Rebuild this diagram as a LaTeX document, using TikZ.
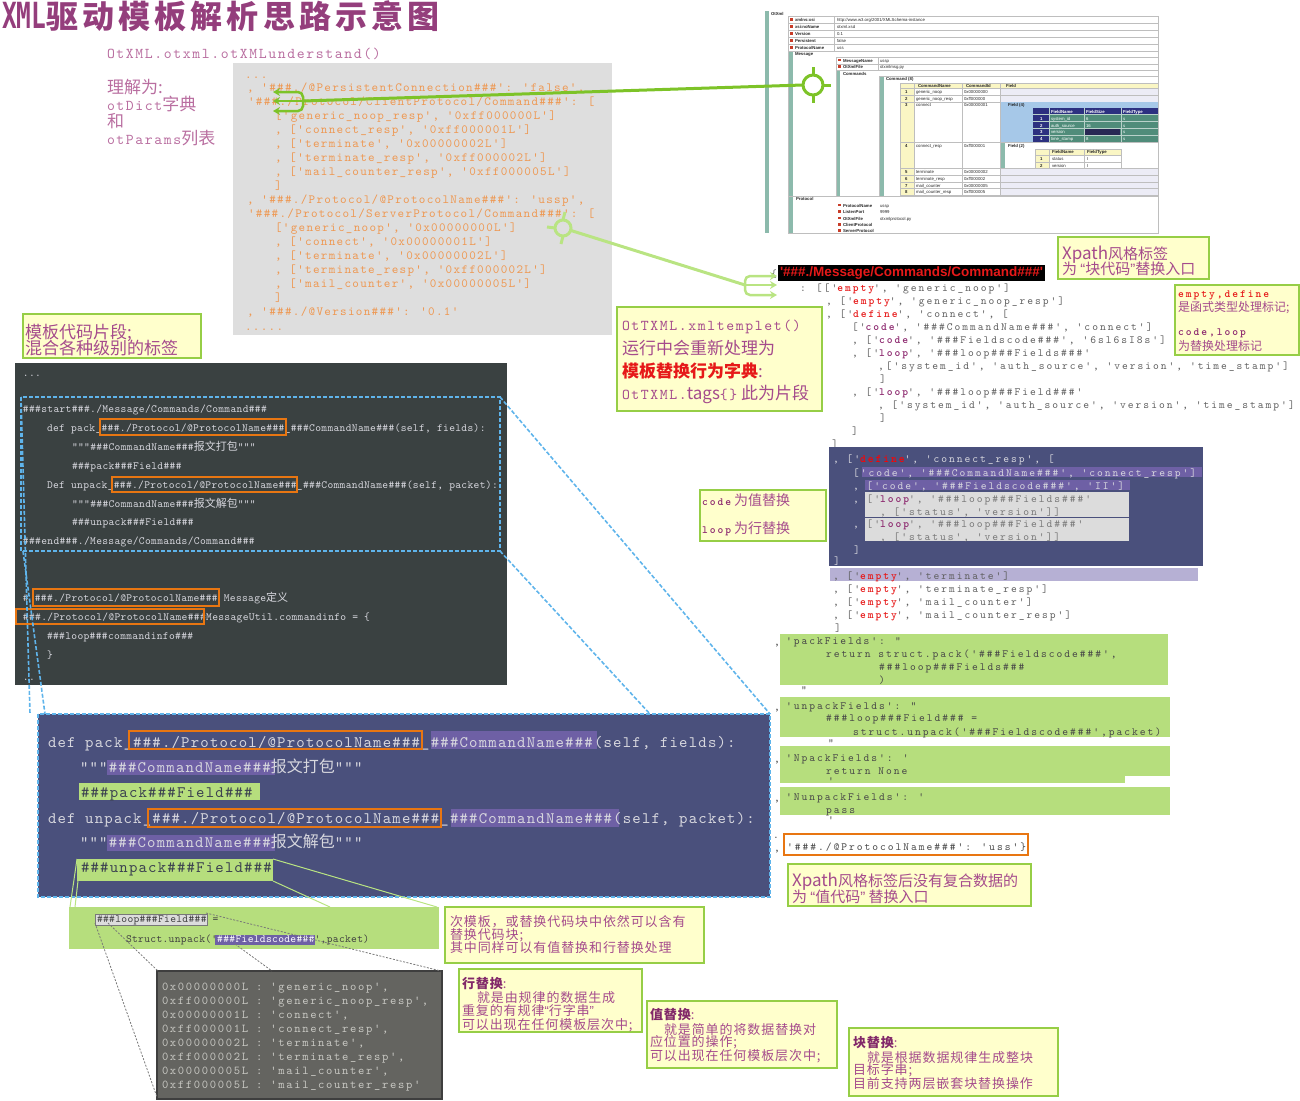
\documentclass[tikz,border=0pt]{standalone}
\usepackage{fontspec}
\usepackage{graphicx}
\usetikzlibrary{arrows.meta}
\newfontfamily\cjk{Noto Sans CJK SC}
\newfontfamily\cjkS[LetterSpace=7]{Noto Sans CJK SC}
\newfontfamily\cjkT[LetterSpace=13]{Noto Sans CJK SC}
\newfontfamily\arial{Liberation Sans}
\newfontfamily\djm{DejaVu Sans Mono}
\newfontfamily\monoG[Extension=.otf,LetterSpace=10.5]{lmmono10-regular}
\newfontfamily\monoR[Extension=.otf,LetterSpace=18,BoldFont=lmmonolt10-bold]{lmmono10-regular}
\newfontfamily\monoB[Extension=.otf,LetterSpace=7.5]{lmmono10-regular}
\newfontfamily\monoD[Extension=.otf,LetterSpace=3]{lmmono10-regular}
\newfontfamily\monoK[Extension=.otf,LetterSpace=14]{lmmono10-regular}
\newfontfamily\monoT[Extension=.otf,LetterSpace=10.8]{lmmono10-regular}
\newcommand\hsh{\#\#\#}
\newcommand\zh[1]{{\cjk #1}}
\newcommand\zht[1]{{\cjk\fontsize{17}{17}\selectfont #1}}
\newcommand\kr[1]{{\color{kred}\bfseries #1}}
\newcommand\kp[1]{{\color{kpur}\bfseries #1}}
\newcommand\kpb[1]{{\monoR\bfseries\fontsize{11}{11}\selectfont\color{kpur}#1}}
\newcommand\oq{{\arial “}}
\newcommand\cq{{\arial ”}}
\definecolor{ttl}{RGB}{148,62,124}
\definecolor{ttxt}{RGB}{185,110,160}
\definecolor{anntxt}{RGB}{165,75,140}
\definecolor{anndark}{RGB}{130,40,105}
\definecolor{ybg}{RGB}{255,255,204}
\definecolor{ybd}{RGB}{150,206,70}
\definecolor{gbg}{RGB}{182,222,125}
\definecolor{darkbg}{RGB}{58,65,65}
\definecolor{bluebg}{RGB}{74,80,124}
\definecolor{purp}{RGB}{110,96,165}
\definecolor{orng}{RGB}{232,118,18}
\definecolor{grybg}{RGB}{222,222,222}
\definecolor{otxt}{RGB}{238,152,82}
\definecolor{lblue}{RGB}{95,180,235}
\definecolor{codegray}{RGB}{95,95,95}
\definecolor{midgray}{RGB}{120,120,120}
\definecolor{kred}{RGB}{230,25,25}
\definecolor{kpur}{RGB}{140,40,110}
\definecolor{lav}{RGB}{182,176,212}
\definecolor{lighttxt}{RGB}{215,215,222}
\definecolor{gtxt}{RGB}{60,66,80}
\definecolor{gline}{RGB}{125,195,40}
\definecolor{gline2}{RGB}{185,228,130}
\definecolor{boxgray}{RGB}{100,100,96}
\definecolor{boxbd}{RGB}{62,62,62}
\definecolor{ktxt}{RGB}{200,200,195}
\definecolor{lgray}{RGB}{220,220,220}
\definecolor{sbar}{RGB}{140,186,172}
\definecolor{sgrid}{RGB}{190,190,190}
\definecolor{shead}{RGB}{250,246,196}
\definecolor{srow}{RGB}{236,236,246}
\definecolor{sblue}{RGB}{166,200,232}
\definecolor{snavy}{RGB}{44,48,128}
\definecolor{steal}{RGB}{80,140,122}
\definecolor{sdark}{RGB}{40,40,84}
\definecolor{sicon}{RGB}{200,60,40}
\definecolor{stxt}{RGB}{40,40,40}
\tikzset{
  gcode/.style={font=\monoG\fontsize{12.5}{14}\selectfont, text=otxt},
  rcode/.style={font=\monoR\fontsize{11}{13}\selectfont, text=codegray},
  rlight/.style={rcode, text=lighttxt},
  grcode/.style={rcode, text=black!72},
  dcode/.style={font=\monoD\fontsize{11}{19}\selectfont, text=lighttxt},
  bcode/.style={font=\monoB\fontsize{16}{25}\selectfont, text=lighttxt},
  kcode/.style={font=\monoK\fontsize{12}{14}\selectfont, text=ktxt},
  toptxt/.style={font=\monoT\fontsize{15}{17}\selectfont, text=ttxt},
  annS/.style={font=\cjkS\fontsize{13}{14}\selectfont, text=anntxt},
  annA/.style={font=\cjk\fontsize{15}{15}\selectfont, text=anntxt},
  annB/.style={font=\cjk\fontsize{12}{12}\selectfont, text=anntxt},
  annC/.style={font=\cjk\fontsize{17}{17}\selectfont, text=anntxt},
  ybox/.style={fill=ybg, draw=ybd, line width=1.6pt},
  obox/.style={draw=orng, line width=2pt},
  bdash/.style={draw=lblue, line width=1.6pt, dash pattern=on 4pt off 2pt},
  tiny/.style={font=\arial\fontsize{4.3}{5}\selectfont, text=stxt},
  tinyb/.style={font=\arial\bfseries\fontsize{4.3}{5}\selectfont, text=stxt},
  sg/.style={draw=sgrid, line width=0.5pt},
}
\begin{document}
\begin{tikzpicture}[x=1pt,y=-1pt, every node/.style={inner sep=0pt,outer sep=0pt,anchor=base west}]
\useasboundingbox (0,0) rectangle (1300,1100);

% ---------------- title
\node[text=ttl] (title) at (2,28) {\scalebox{0.68}[1]{\djm\bfseries\fontsize{36}{36}\selectfont XML}{\cjkT\bfseries\fontsize{32}{32}\selectfont 驱动模板解析思路示意图}};

% ---------------- top-left
\node[toptxt] (u1) at (107,58) {OtXML.otxml.otXMLunderstand()};
\node[toptxt] (u2) at (107,93) {\zht{理解为:}};
\node[toptxt] (u3) at (107,110) {otDict\zht{字典}};
\node[toptxt] (u4) at (107,127) {\zht{和}};
\node[toptxt] (u5) at (107,144) {otParams\zht{列表}};

% ---------------- gray dict block
\fill[grybg] (233,63) rectangle (612,335);
\node[gcode] (g1) at (245,78) {...};
\node[gcode] (g2) at (247,91) {, '\hsh./@PersistentConnection\hsh': 'false',};
\node[gcode] (g3) at (248,105) {'\hsh./Protocol/ClientProtocol/Command\hsh': [};
\node[gcode] (g4) at (275,119) {['generic\_noop\_resp', '0xff000000L']};
\node[gcode] (g5) at (275,133) {, ['connect\_resp', '0xff000001L']};
\node[gcode] (g6) at (275,147) {, ['terminate', '0x00000002L']};
\node[gcode] (g7) at (275,161) {, ['terminate\_resp', '0xff000002L']};
\node[gcode] (g8) at (275,175) {, ['mail\_counter\_resp', '0xff000005L']};
\node[gcode] (g9) at (275,189) {]};
\node[gcode] (g10) at (247,203) {, '\hsh./Protocol/@ProtocolName\hsh': 'ussp',};
\node[gcode] (g11) at (248,217) {'\hsh./Protocol/ServerProtocol/Command\hsh': [};
\node[gcode] (g12) at (275,231) {['generic\_noop', '0x00000000L']};
\node[gcode] (g13) at (275,245) {, ['connect', '0x00000001L']};
\node[gcode] (g14) at (275,259) {, ['terminate', '0x00000002L']};
\node[gcode] (g15) at (275,273) {, ['terminate\_resp', '0xff000002L']};
\node[gcode] (g16) at (275,287) {, ['mail\_counter', '0x00000005L']};
\node[gcode] (g17) at (275,301) {]};
\node[gcode] (g18) at (247,315) {, '\hsh./@Version\hsh': '0.1'};
\node[gcode] (g19) at (245,330) {.....};

% ---------------- screenshot (top right)
\fill[sbar] (765,11) rectangle (769,233);
\node[tinyb] (s0) at (771,15) {OtXml};
\draw[sg] (788,16) rectangle (1158,51);
\foreach \yy in {23,30,37,44}{\draw[sg] (788,\yy) -- (1158,\yy);}
\draw[sg] (834,16) -- (834,51);
\foreach \i/\yy/\n/\v in {1/21.5/xmlns:xsi/{http://www.w3.org/2001/XMLSchema-instance},2/28.5/xsi:noName/{otxml.xsd},3/35.5/Version/{0.1},4/42.5/Persistent/{false},5/49.5/ProtocolName/{uss}}{
  \fill[sicon] (790,\yy-3.5) rectangle (792.5,\yy-1);
  \node[tinyb] (sa\i) at (795,\yy) {\n};
  \node[tiny] (sv\i) at (837,\yy) {\v};
}
\draw[sg] (788,51) rectangle (1158,196);
\fill[sbar] (789,52) rectangle (793,196);
\node[tinyb] (sm0) at (795,55.5) {Message};
\draw[sg] (836,57) rectangle (1158,196);
\draw[sg] (836,64) -- (1158,64);
\draw[sg] (836,70) -- (1158,70);
\draw[sg] (878,57) -- (878,70);
\foreach \i/\yy/\n/\v in {1/62/MessageName/ussp,2/68.5/OtXmlFile/{otxmlmsg.py}}{
  \fill[sicon] (838,\yy-3.5) rectangle (840.5,\yy-1);
  \node[tinyb] (sma\i) at (843,\yy) {\n};
  \node[tiny] (smv\i) at (880,\yy) {\v};
}
\node[tinyb] (sm3) at (843,75) {Commands};
\fill[sbar] (837,71) rectangle (840,196);
\draw[sg] (879,76) rectangle (1158,196);
\node[tinyb] (sm4) at (886,80.5) {Command (8)};
\fill[sbar] (880,77) rectangle (884,196);
\fill[shead] (900,83) rectangle (1158,88.5);
\fill[shead] (900,88.5) rectangle (914,195);
\fill[srow] (1000.5,88.5) rectangle (1158,102);
\fill[srow] (1000.5,168.5) rectangle (1158,195);
\foreach \yy in {83,88.5,95.5,102,142,168.5,175,182,188.5,195}{\draw[sg] (900,\yy) -- (1158,\yy);}
\foreach \xx in {900,914,962,1000.5}{\draw[sg] (\xx,83) -- (\xx,195);}
\node[tinyb] (sh1) at (918,87.3) {CommandName};
\node[tinyb] (sh2) at (966,87.3) {CommandId};
\node[tinyb] (sh3) at (1006,87.3) {Field};
\foreach \i/\yy/\n/\v in {1/93.6/generic\_noop/0x00000000,2/100.4/generic\_noop\_resp/0xff000000,3/106.4/connect/0x00000001,4/147/connect\_resp/0xff000001,5/173.4/terminate/0x00000002,6/180.4/terminate\_resp/0xff000002,7/187/mail\_counter/0x00000005,8/193.6/mail\_counter\_resp/0xff000005}{
  \node[tinyb] (sn\i) at (905,\yy) {\i};
  \node[tiny] (sc\i) at (916,\yy) {\n};
  \node[tiny] (sd\i) at (964,\yy) {\v};
}
\fill[sblue] (1000.5,102) rectangle (1158,142);
\node[tinyb] (sf0) at (1008,106.5) {Field (4)};
\fill[snavy] (1033,108) rectangle (1158,142);
\fill[steal] (1049,114.5) rectangle (1158,142);
\fill[sdark] (1085,128.5) rectangle (1120,135.3);
\foreach \yy in {114.5,121.4,128.3,135.2}{\draw[draw=white!60!steal,line width=0.4pt] (1033,\yy) -- (1158,\yy);}
\foreach \xx in {1049,1084,1121}{\draw[draw=white!60!steal,line width=0.4pt] (\xx,108) -- (\xx,142);}
\node[tinyb,text=white] (sf1) at (1051,113) {FieldName};
\node[tinyb,text=white] (sf2) at (1086,113) {FieldSize};
\node[tinyb,text=white] (sf3) at (1123,113) {FieldType};
\foreach \i/\yy/\n/\s in {1/120/system\_id/6,2/127/auth\_source/16,3/133.8/version/{},4/140.7/time\_stamp/8}{
  \node[tinyb,text=white] (sfn\i) at (1040,\yy) {\i};
  \node[tiny,text=white] (sfa\i) at (1051,\yy) {\n};
  \node[tiny,text=white] (sfb\i) at (1086,\yy) {\s};
  \node[tiny,text=white] (sfc\i) at (1123,\yy) {s};
}
\fill[sbar] (1001,142.5) rectangle (1005,168);
\node[tinyb] (sg0) at (1008,147.5) {Field (2)};
\fill[shead] (1035,149) rectangle (1121,155.5);
\fill[shead] (1035,155.5) rectangle (1049,168.5);
\fill[white] (1049,155.5) rectangle (1121,168.5);
\draw[sg] (1035,149) rectangle (1121,168.5);
\draw[sg] (1035,155.5) -- (1121,155.5);
\draw[sg] (1035,162) -- (1121,162);
\draw[sg] (1049,149) -- (1049,168.5);
\draw[sg] (1084,149) -- (1084,168.5);
\node[tinyb] (sg1) at (1052,153.5) {FieldName};
\node[tinyb] (sg2) at (1087,153.5) {FieldType};
\node[tinyb] (sg3) at (1040,160.5) {1};
\node[tiny] (sg4) at (1052,160.5) {status};
\node[tiny] (sg5) at (1087,160.5) {I};
\node[tinyb] (sg6) at (1040,167) {2};
\node[tiny] (sg7) at (1052,167) {version};
\node[tiny] (sg8) at (1087,167) {I};
\draw[sg] (788,196) rectangle (1158,233);
\fill[sbar] (789,197) rectangle (793,233);
\node[tinyb] (sp0) at (796,200.5) {Protocol};
\foreach \i/\yy/\n/\v in {1/207/ProtocolName/ussp,2/213.5/ListenPort/9999,3/220/OtXmlFile/{otxmlprotocol.py},4/226.5/ClientProtocol/{},5/232.5/ServerProtocol/{}}{
  \fill[sicon] (838,\yy-3.5) rectangle (840.5,\yy-1);
  \node[tinyb] (spa\i) at (843,\yy) {\n};
  \node[tiny] (spv\i) at (880,\yy) {\v};
}

% ---------------- right code listing
\node[rcode] (r0) at (771,277) {\{};
\node[font=\arial\bfseries\fontsize{13.5}{14}\selectfont, text=kred, fill=black, anchor=west, inner xsep=2pt, minimum height=16pt] (tag) at (778,273) {'\#\#\#./Message/Commands/Command\#\#\#'};
\node[rcode] (r1) at (800,291) {: [['\kr{empty}', 'generic\_noop']};
\node[rcode] (r2) at (826,304) {, ['\kr{empty}', 'generic\_noop\_resp']};
\node[rcode] (r3) at (826,317) {, ['\kr{define}', 'connect', [};
\node[rcode] (r4) at (852,330) {['\kp{code}', '\hsh{}CommandName\hsh{}', 'connect']};
\node[rcode] (r5) at (852,343) {, ['\kp{code}', '\hsh{}Fieldscode\hsh{}', '6sl6sI8s']};
\node[rcode] (r6) at (852,356) {, ['\kp{loop}', '\hsh{}loop\hsh{}Fields\hsh{}'};
\node[rcode] (r7) at (878,369) {,['system\_id', 'auth\_source', 'version', 'time\_stamp']};
\node[rcode] (r8) at (880,382) {]};
\node[rcode] (r9) at (852,395) {, ['\kp{loop}', '\hsh{}loop\hsh{}Field\hsh{}'};
\node[rcode] (r10) at (878,408) {, ['system\_id', 'auth\_source', 'version', 'time\_stamp']};
\node[rcode] (r11) at (880,421) {]};
\node[rcode] (r12) at (852,434) {]};
\node[rcode] (r13) at (832,447) {]};

\fill[bluebg] (829,447) rectangle (1203,566);
\fill[purp] (862,467) rectangle (1202,477);
\fill[purp] (865,480) rectangle (1130,490);
\fill[lgray] (865,492) rectangle (1129,517);
\fill[lgray] (865,518) rectangle (1129,541);
\node[rlight] (q1) at (833,462) {, ['{\color{red}\bfseries define}', 'connect\_resp', [};
\node[rlight] (q2) at (853,476) {['code', '\hsh{}CommandName\hsh{}', 'connect\_resp']};
\node[rlight] (q3) at (853,489) {, ['code', '\hsh{}Fieldscode\hsh{}', 'II']};
\node[rcode,text=midgray] (q4) at (853,502) {\textcolor{lighttxt}{,} ['\kp{loop}', '\hsh{}loop\hsh{}Fields\hsh{}'};
\node[rcode,text=midgray] (q5) at (880,515) {, ['status', 'version']]};
\node[rcode,text=midgray] (q6) at (853,527) {\textcolor{lighttxt}{,} ['\kp{loop}', '\hsh{}loop\hsh{}Field\hsh{}'};
\node[rcode,text=midgray] (q7) at (880,540) {, ['status', 'version']]};
\node[rlight] (q8) at (854,553) {]};
\node[rlight] (q9) at (834,564) {]};

\fill[lav] (830,568) rectangle (1198,581);
\node[rcode] (p1) at (833,579) {, ['\kr{empty}', 'terminate']};
\node[rcode] (p2) at (833,592) {, ['\kr{empty}', 'terminate\_resp']};
\node[rcode] (p3) at (833,605) {, ['\kr{empty}', 'mail\_counter']};
\node[rcode] (p4) at (833,618) {, ['\kr{empty}', 'mail\_counter\_resp']};
\node[rcode] (p5) at (835,631) {]};

\fill[gbg] (780,634) rectangle (1168,685);
\fill[gbg] (780,697) rectangle (1170,737);
\fill[gbg] (780,746) rectangle (1170,776);
\fill[gbg] (780,775) rectangle (1125,783);
\fill[gbg] (780,787) rectangle (1170,815);
\node[grcode] (f1) at (774,645) {,};
\node[grcode] (f2) at (786,644) {'packFields': "};
\node[grcode] (f3) at (826,657) {return struct.pack('\hsh{}Fieldscode\hsh{}',};
\node[grcode] (f4) at (879,670) {\hsh{}loop\hsh{}Fields\hsh{}};
\node[grcode] (f5) at (879,683) {)};
\node[grcode] (f6) at (801,693) {"};
\node[grcode] (f7) at (774,710) {,};
\node[grcode] (f8) at (786,709) {'unpackFields': "};
\node[grcode] (f9) at (826,721) {\hsh{}loop\hsh{}Field\hsh{} =};
\node[grcode] (f10) at (853,735) {struct.unpack('\hsh{}Fieldscode\hsh{}',packet)};
\node[grcode] (f11) at (828,746) {"};
\node[grcode] (f12) at (774,762) {,};
\node[grcode] (f13) at (786,761) {'NpackFields': '};
\node[grcode] (f14) at (826,774) {return None};
\node[grcode] (f15) at (828,784) {'};
\node[grcode] (f16) at (774,801) {,};
\node[grcode] (f17) at (786,800) {'NunpackFields': '};
\node[grcode] (f18) at (826,813) {pass};
\node[grcode] (f19) at (828,823) {'};
\node[grcode] (f20) at (773,838) {..};
\node[grcode] (f21) at (774,851) {,};
\draw[obox, fill=white, line width=2.5pt] (784,834) rectangle (1028,855);
\node[grcode] (f22) at (787,850) {'\hsh{}./@ProtocolName\hsh{}': 'uss'\}};

% ---------------- dark template block
\fill[darkbg] (15,363) rectangle (507,685);
\node[dcode] (d1) at (23,376.5) {...};
\node[dcode] (d2) at (23,412.5) {\hsh{}start\hsh{}./Message/Commands/Command\hsh{}};
\node[dcode] (d3) at (47,431.5) {def pack\_\hsh{}./Protocol/@ProtocolName\hsh{}\_\hsh{}CommandName\hsh{}(self, fields):};
\node[dcode] (d4) at (72,450.5) {"""\hsh{}CommandName\hsh{}\zh{报文打包}"""};
\node[dcode] (d5) at (72,469.5) {\hsh{}pack\hsh{}Field\hsh{}};
\node[dcode] (d6) at (47,488.5) {Def unpack\_\hsh{}./Protocol/@ProtocolName\hsh{}\_\hsh{}CommandName\hsh{}(self, packet):};
\node[dcode] (d7) at (72,507.5) {"""\hsh{}CommandName\hsh{}\zh{报文解包}"""};
\node[dcode] (d8) at (72,525.5) {\hsh{}unpack\hsh{}Field\hsh{}};
\node[dcode] (d9) at (23,544.5) {\hsh{}end\hsh{}./Message/Commands/Command\hsh{}};
\node[dcode] (d10) at (23,601.5) {\# \hsh{}./Protocol/@ProtocolName\hsh{} Message\zh{定义}};
\node[dcode] (d11) at (23,620.5) {\hsh{}./Protocol/@ProtocolName\hsh{}MessageUtil.commandinfo = \{};
\node[dcode] (d12) at (47,639.5) {\hsh{}loop\hsh{}commandinfo\hsh{}};
\node[dcode] (d13) at (47,658) {\}};
\node[dcode] (d14) at (23,680) {..};
\draw[obox] (100,419) rectangle (286,435);
\draw[obox] (112,477) rectangle (297,492);
\draw[obox] (33,589) rectangle (219,606);
\draw[obox] (16,609) rectangle (204,624);
\draw[bdash] (21,397) rectangle (500,551);

% ---------------- big blue block
\fill[bluebg] (38,714) rectangle (770,897);
\fill[purp] (431,731) rectangle (597,749);
\fill[purp] (107,760) rectangle (275,775);
\fill[purp] (451,809) rectangle (619,827);
\fill[purp] (107,835) rectangle (275,851);
\fill[gbg] (79,783) rectangle (260,800);
\fill[gbg] (77,859) rectangle (273,881);
\node[bcode] (b1) at (48,747) {def pack\_\hsh{}./Protocol/@ProtocolName\hsh{}\_\hsh{}CommandName\hsh{}(self, fields):};
\node[bcode] (b2) at (80,772) {"""\hsh{}CommandName\hsh{}\zh{报文打包}"""};
\node[bcode, text=gtxt] (b3) at (81,797) {\hsh{}pack\hsh{}Field\hsh{}};
\node[bcode] (b4) at (48,823) {def unpack\_\hsh{}./Protocol/@ProtocolName\hsh{}\_\hsh{}CommandName\hsh{}(self, packet):};
\node[bcode] (b5) at (80,847) {"""\hsh{}CommandName\hsh{}\zh{报文解包}"""};
\node[bcode, text=gtxt] (b6) at (81,872) {\hsh{}unpack\hsh{}Field\hsh{}};
\draw[obox] (129,731) rectangle (422,749);
\draw[obox] (148,809) rectangle (441,827);
\draw[bdash] (38,714) rectangle (770,897);

% blue dashed zoom lines
\coordinate (dTL) at (21,397);
\coordinate (dTR) at (500,397);
\coordinate (dBL) at (23,551);
\coordinate (dBR) at (500,551);
\coordinate (bA) at (30,714);
\coordinate (bB) at (45,714);
\coordinate (bC) at (650,714);
\coordinate (bD) at (770,714);
\draw[bdash] (dTL) -- (bA);
\draw[bdash] (dBL) -- (bB);
\draw[bdash] (dTR) -- (bD);
\draw[bdash] (dBR) -- (bC);

% ---------------- bottom green sub-template
\fill[gbg] (69,907) rectangle (439,949);
\draw[fill=lgray, draw=midgray, line width=0.6pt] (95,914) rectangle (207,925);
\fill[purp] (215,935) rectangle (315,945);
\node[dcode, text=black!75] (e1) at (97,922.5) {\hsh{}loop\hsh{}Field\hsh{} =};
\node[dcode, text=black!75] (e2) at (126,942.5) {Struct.unpack('\textcolor{white}{\hsh{}Fieldscode\hsh{}}',packet)};

\coordinate (uTL) at (77,859);
\coordinate (uBL) at (78,881);
\coordinate (uTR) at (273,859);
\coordinate (uBR) at (273,881);
\coordinate (vA) at (70,907);
\coordinate (vB) at (75,907);
\coordinate (vC) at (437,907);
\coordinate (vD) at (330,907);
\draw[gline2, line width=1pt] (uTL) -- (vA);
\draw[gline2, line width=1pt] (uBL) -- (vB);
\draw[gline2, line width=1pt] (uTR) -- (vC);
\draw[gline2, line width=1pt] (uBR) -- (vD);

% dark data box
\draw[draw=boxbd, fill=boxgray, line width=2pt] (157,971) rectangle (442,1099);
\node[kcode] (k1) at (162,990) {0x00000000L : 'generic\_noop',};
\node[kcode] (k2) at (162,1004) {0xff000000L : 'generic\_noop\_resp',};
\node[kcode] (k3) at (162,1018) {0x00000001L : 'connect',};
\node[kcode] (k4) at (162,1032) {0xff000001L : 'connect\_resp',};
\node[kcode] (k5) at (162,1046) {0x00000002L : 'terminate',};
\node[kcode] (k6) at (162,1060) {0xff000002L : 'terminate\_resp',};
\node[kcode] (k7) at (162,1074) {0x00000005L : 'mail\_counter',};
\node[kcode] (k8) at (162,1088) {0xff000005L : 'mail\_counter\_resp'};
\coordinate (lA) at (95,923);
\coordinate (lB) at (108,923);
\coordinate (lC) at (206,913);
\coordinate (lD) at (235,944);
\coordinate (mA) at (157,1097);
\coordinate (mB) at (158,971);
\coordinate (mC) at (441,971);
\coordinate (mD) at (272,971);
\draw[midgray, line width=0.8pt, dash pattern=on 2pt off 1.5pt] (lA) -- (mA);
\draw[midgray, line width=0.8pt, dash pattern=on 2pt off 1.5pt] (lB) -- (mB);
\draw[midgray, line width=0.8pt, dash pattern=on 2pt off 1.5pt] (lC) -- (mC);
\draw[midgray, line width=0.8pt, dash pattern=on 2pt off 1.5pt] (lD) -- (mD);

% ---------------- annotations
\draw[ybox] (1058,237) rectangle (1209,279);
\node[annA] (a1) at (1062,259) {{\fontsize{17}{17}\selectfont Xpath}风格标签};
\node[annA] (a2) at (1062,274) {为 \oq 块代码\cq 替换入口};

\draw[ybox] (1175,285) rectangle (1299,355);
\node[font=\monoR\bfseries\fontsize{11}{11}\selectfont, text=kred] (nb1) at (1178,297) {empty,define};
\node[annB] (nb2) at (1178,311) {是函式类型处理标记;};
\node[font=\monoR\bfseries\fontsize{11}{11}\selectfont, text=kpur] (nb3) at (1178,335) {code,loop};
\node[annB] (nb4) at (1178,350) {为替换处理标记};

\draw[ybox] (617,307) rectangle (822,411);
\node[toptxt, text=anntxt] (nc1) at (622,330) {OtTXML.xmltemplet()};
\node[annC] (nc2) at (622,354) {运行中会重新处理为};
\node[annC] (nc3) at (622,377) {\textcolor{kred}{\bfseries 模板替换行为字典}:};
\node[annC] (nc4) at (622,399) {{\monoT\fontsize{15}{15}\selectfont OtTXML.}tags{\monoT\fontsize{15}{15}\selectfont\{\}} 此为片段};

\draw[ybox] (23,314) rectangle (201,358);
\node[annC] (nd1) at (25,338) {模板代码片段;};
\node[annC] (nd2) at (25,354.5) {混合各种级别的标签};

\draw[ybox] (700,490) rectangle (826,541);
\node[font=\cjk\fontsize{14}{14}\selectfont, text=anntxt] (ne1) at (702,505) {\kpb{code} 为值替换};
\node[font=\cjk\fontsize{14}{14}\selectfont, text=anntxt] (ne2) at (702,533) {\kpb{loop} 为行替换};

\draw[ybox] (788,864) rectangle (1031,906);
\node[annA] (nf1) at (792,886) {{\fontsize{17}{17}\selectfont Xpath}风格标签后没有复合数据的};
\node[annA] (nf2) at (792,902) {为 \oq 值代码\cq\ 替换入口};

\draw[ybox] (445,907) rectangle (704,963);
\node[annS] (ng1) at (450,926) {次模板，或替换代码块中依然可以含有};
\node[annS] (ng2) at (450,939) {替换代码块;};
\node[annS] (ng3) at (450,952) {其中同样可以有值替换和行替换处理};

\draw[ybox] (459,969) rectangle (642,1032);
\node[annS] (nh1) at (462,988) {\textcolor{anndark}{\bfseries 行替换}:};
\node[annS] (nh2) at (477,1002) {就是由规律的数据生成};
\node[annS] (nh3) at (462,1015) {重复的有规律\oq 行字串\cq};
\node[annS] (nh4) at (462,1029) {可以出现在任何模板层次中;};

\draw[ybox] (647,1001) rectangle (837,1068);
\node[annS] (ni1) at (650,1019) {\textcolor{anndark}{\bfseries 值替换}:};
\node[annS] (ni2) at (664,1034) {就是简单的将数据替换对};
\node[annS] (ni3) at (650,1046) {应位置的操作;};
\node[annS] (ni4) at (650,1060) {可以出现在任何模板层次中;};

\draw[ybox] (849,1028) rectangle (1058,1096);
\node[annS] (nj1) at (853,1047) {\textcolor{anndark}{\bfseries 块替换}:};
\node[annS] (nj2) at (867,1062) {就是根据数据规律生成整块};
\node[annS] (nj3) at (853,1074) {目标字串;};
\node[annS] (nj4) at (853,1088) {目前支持两层嵌套块替换操作};

% ---------------- green connectors
\node[circle, draw=gline, line width=3pt, minimum size=20pt, anchor=center] (ring1) at (813,85) {};
\draw[gline, line width=3pt] (ring1.north) -- ++(0,-8);
\draw[gline, line width=3pt] (ring1.south) -- ++(0,8);
\draw[gline, line width=3pt] (ring1.east) -- ++(8,0);
\coordinate (k1b) at (303,101);
\coordinate (t1) at (273,92);
\coordinate (t2) at (273,101);
\coordinate (t3) at (273,111);
\draw[gline, line width=3pt] (ring1.west) -- (k1b);
\draw[gline, line width=2.5pt, rounded corners=5pt, {Stealth[length=7pt,width=8pt]}-{Stealth[length=7pt,width=8pt]}] (t1) -- (303,92) -- (303,111) -- (t3);
\draw[gline, line width=2.5pt, -{Stealth[length=7pt,width=8pt]}] (k1b) -- (t2);

\node[circle, draw=gline2, line width=3pt, minimum size=16pt, anchor=center] (ring2) at (563,228) {};
\draw[gline2, line width=3pt] (ring2.north) -- ++(2,-8);
\draw[gline2, line width=3pt] (ring2.west) -- ++(-8,-1);
\draw[gline2, line width=3pt] (ring2.south) -- ++(-2,8);
\coordinate (k2b) at (745,285);
\coordinate (t4) at (777,276);
\coordinate (t5) at (777,285);
\coordinate (t6) at (777,295);
\draw[gline2, line width=3pt] (ring2) -- (k2b);
\draw[gline2, line width=2.5pt, rounded corners=5pt, {Stealth[length=7pt,width=8pt]}-{Stealth[length=7pt,width=8pt]}] (t4) -- (745,276) -- (745,295) -- (t6);
\draw[gline2, line width=2.5pt, -{Stealth[length=7pt,width=8pt]}] (k2b) -- (t5);

\end{tikzpicture}
\end{document}
